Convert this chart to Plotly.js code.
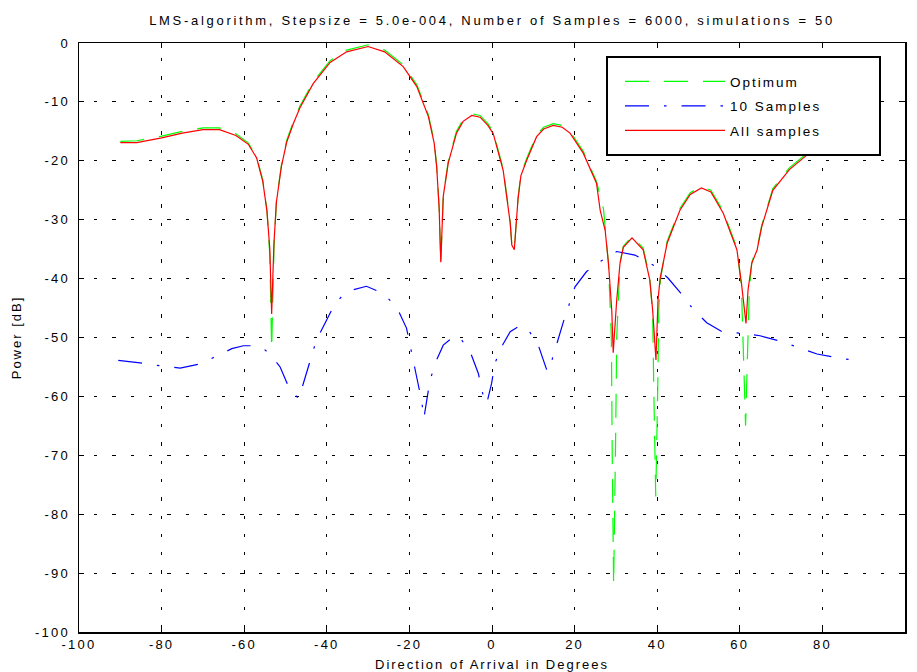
<!DOCTYPE html>
<html>
<head>
<meta charset="utf-8">
<script src="https://cdn.plot.ly/plotly-3.0.1.min.js"></script>
<style>
  html, body { margin: 0; padding: 0; background: #fff; }
  svg text { letter-spacing: 2px; }
  svg .gtitle { letter-spacing: 2.7px; }
  svg .xtick text, svg .ytick text { letter-spacing: 2.2px; }
</style>
</head>
<body>
<div id="chart" style="width:917px;height:672px;"></div>
<script>
// ---- Data ----
const chartTitle = "LMS-algorithm, Stepsize = 5.0e-004, Number of Samples = 6000, simulations = 50";
const xLabel = "Direction of Arrival in Degrees";
const yLabel = "Power [dB]";
const seriesNames = ["Optimum", "10 Samples", "All samples"];

const optAngles = [-90,-86,-80,-75,-70,-66,-62,-59,-57,-55.5,-54.5,-53.8,-53.35,-52.8,-52.2,-51,-49.7,-48,-46.5,-43.3,-39.2,-35.2,-30,-26,-21.5,-18.2,-15.4,-14,-13.4,-12.8,-12.4,-11.8,-10.6,-8.6,-7,-4.9,-2.9,-1,0.3,2.7,4.4,4.8,5.4,6.3,7,8.4,10.8,12.5,14.8,17,18.9,22.1,25.3,27,28.2,28.9,29.1,29.45,29.9,30.2,31,31.8,33.9,36.6,38.2,38.9,39.2,39.65,40.1,40.4,40.8,42.4,45.5,48,50.7,53,56,59.3,60.4,60.9,61.4,61.9,62.3,62.9,64.2,65.3,68,72,76.3,80,84,90];
const optPower  = [-16.7,-16.6,-15.8,-15.0,-14.4,-14.4,-15.4,-17.0,-19.3,-23.3,-28.3,-36,-52,-35,-26.8,-20.8,-16.5,-13.2,-10.7,-6.6,-3.0,-1.2,-0.3,-1.2,-3.7,-7.1,-12.2,-16.7,-20.8,-27.8,-37.4,-26,-20.1,-15.0,-13.0,-12.0,-12.3,-13.7,-15.1,-21.3,-30.3,-34.2,-35.2,-26.3,-22.2,-19.6,-15.6,-14.3,-13.7,-14.0,-15.0,-18.4,-23.5,-28.2,-37.5,-50,-69,-92,-69,-50,-37.3,-34.5,-32.8,-34.8,-39.9,-46,-60,-77,-60,-45,-40,-33.7,-28.1,-25.4,-24.4,-25.0,-28.6,-34.8,-41.5,-52,-65,-52,-42,-37.2,-34.8,-31.0,-24.7,-21.2,-18.7,-17.6,-16.2,-15.2];

const tenAngles = [-90.5,-85.2,-80.4,-75.5,-70.7,-67,-63,-60.2,-57.8,-55.5,-53.8,-51.3,-49.1,-46.8,-45.3,-44.1,-42.5,-40,-38,-35.2,-30.4,-26.4,-23.1,-20.7,-19.9,-17,-16.5,-15,-13.4,-11.8,-9,-7.7,-5.3,-3.3,-2.1,-1.3,-0.1,0.7,2.3,4.4,6.8,8.8,11.2,13.4,14.4,15.6,17.3,20.1,22.9,26.2,30.2,34.6,39.5,42.6,45.5,48.7,52,55.7,60.8,64.9,69.7,74.6,78.7,84,89.5];
const tenPower  = [-53.9,-54.3,-54.8,-55.2,-54.5,-53.3,-51.9,-51.4,-51.4,-51.8,-52.8,-55.0,-58.6,-60.4,-56.9,-54.1,-50.4,-47.0,-44.2,-42.2,-41.3,-42.5,-44.8,-48.4,-51.0,-60.9,-63.7,-57.2,-53.8,-51.3,-49.7,-50.1,-52.4,-56.1,-60.0,-61.3,-57.8,-54.4,-51.6,-49.0,-48.0,-48.7,-51.3,-55.8,-54.1,-51.3,-47.3,-41.4,-38.8,-37.1,-35.4,-36.0,-37.9,-39.9,-42.3,-45.2,-47.5,-49.0,-49.3,-49.7,-50.6,-51.8,-52.8,-53.5,-54.0];

const allAngles = [-90,-86,-80,-75,-70,-66,-62,-59,-57,-55.5,-54.5,-53.8,-53.35,-52.8,-52.2,-51,-49.7,-48,-46.5,-43.3,-39.2,-35.2,-30,-26,-21.5,-18.2,-15.4,-14,-13.4,-12.8,-12.4,-11.8,-10.6,-8.6,-7,-4.9,-2.9,-1,0.3,2.7,4.4,4.8,5.4,6.3,7,8.4,10.8,12.5,14.8,17,18.9,22.1,25.3,26.2,27.4,28.2,29,29.35,30.2,31,31.8,33.9,36.6,38.2,38.9,39.7,40.2,40.7,42.4,45.5,48,50.7,53,56,59.3,60.4,61.5,62,62.9,64.2,65.3,68,72,76.3,80,84,90];
const allPower  = [-16.9,-16.9,-16.1,-15.3,-14.7,-14.7,-15.7,-17.2,-19.5,-23.5,-28.5,-35,-46,-34,-27,-21,-16.8,-13.5,-11,-6.9,-3.3,-1.5,-0.6,-1.5,-4.0,-7.4,-12.5,-17,-21,-28,-37.2,-26,-20.4,-15.3,-13.3,-12.3,-12.6,-14.0,-15.4,-21.6,-30.5,-34.3,-35.1,-26.5,-22.5,-19.9,-15.9,-14.6,-14.0,-14.3,-15.3,-18.7,-23.8,-28.4,-31.8,-37.4,-45.4,-52.6,-43.6,-37.4,-34.7,-33.1,-35.1,-40.2,-45.4,-53.8,-43.6,-40.0,-34.0,-28.4,-25.7,-24.6,-25.3,-28.9,-35.1,-40.8,-47.6,-41.9,-37.4,-35.1,-31.2,-25.0,-21.5,-19.0,-18.0,-16.8,-15.6];

const xTicks = [-100,-80,-60,-40,-20,0,20,40,60,80,100];
const yTicks = [-100,-90,-80,-70,-60,-50,-40,-30,-20,-10,0];

// ---- Traces ----
const traces = [
  {x: optAngles, y: optPower, name: seriesNames[0], type: 'scatter', mode: 'lines',
   legendgroup: 'g1', line: {color: '#00ff00', width: 1.2, dash: '24px,15px'}},
  {x: tenAngles, y: tenPower, name: seriesNames[1], type: 'scatter', mode: 'lines',
   legendgroup: 'g2', line: {color: '#0000ff', width: 1.2, dash: '24px,15px,2.5px,15px'}},
  {x: allAngles, y: allPower, name: seriesNames[2], type: 'scatter', mode: 'lines',
   legendgroup: 'g3', line: {color: '#ff0000', width: 1.2}}
];

const axisCommon = {
  ticks: 'inside', ticklen: 5, tickwidth: 1, tickcolor: '#000',
  showline: true, linecolor: '#000', linewidth: 1.5, mirror: 'ticks',
  showgrid: true, gridcolor: '#000', gridwidth: 1, griddash: '0px,15px,3.3px,0px',
  zeroline: false, automargin: false,
  tickfont: {family: 'Liberation Sans, Arial, sans-serif', size: 13, color: '#000'}
};

const legendLeftPx = 620, legendTopPx = 66;

const layout = {
  width: 917, height: 672,
  margin: {l: 79, r: 12, t: 43, b: 40},
  paper_bgcolor: '#fff', plot_bgcolor: '#fff',
  font: {family: 'Liberation Sans, Arial, sans-serif', size: 12, color: '#000'},
  title: {text: chartTitle, x: 0.5, xref: 'paper', xanchor: 'center',
          y: 0.970, yref: 'container', yanchor: 'middle',
          font: {size: 13, color: '#000'}},
  xaxis: Object.assign({}, axisCommon, {
    range: [-100, 100], tickvals: xTicks, ticktext: xTicks.map(String),
    title: {text: xLabel, standoff: 10, font: {size: 13}}
  }),
  yaxis: Object.assign({}, axisCommon, {
    range: [-100, 0], tickvals: yTicks, ticktext: yTicks.map(String),
    ticklabelstandoff: 5,
    title: {text: yLabel, standoff: 10, font: {size: 13}}
  }),
  showlegend: true,
  legend: {
    x: (legendLeftPx - 79) / 826, xanchor: 'left',
    y: 1 - (legendTopPx - 43) / 589, yanchor: 'top',
    bgcolor: 'rgba(0,0,0,0)', borderwidth: 0,
    font: {size: 13.5, color: '#000'},
    tracegroupgap: 4, itemwidth: 100, itemclick: false
  },
  shapes: [
    {type: 'rect', xref: 'paper', yref: 'paper', layer: 'above',
     x0: (607 - 79) / 826, x1: (880 - 79) / 826,
     y0: 1 - (155 - 43) / 589, y1: 1 - (57 - 43) / 589,
     fillcolor: '#fff', line: {color: '#000', width: 2}}
  ]
};

Plotly.newPlot('chart', traces, layout, {displayModeBar: false, staticPlot: true});
</script>
</body>
</html>
